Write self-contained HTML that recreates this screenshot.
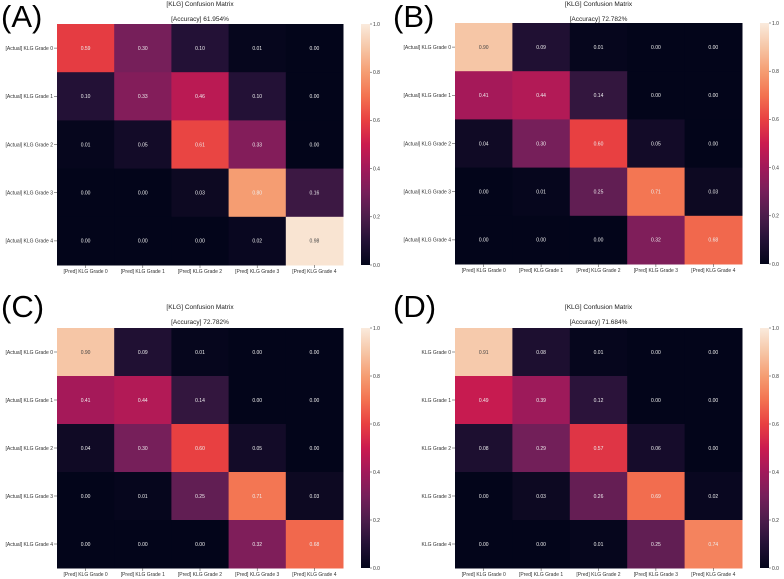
<!DOCTYPE html>
<html><head><meta charset="utf-8"><style>
html,body{margin:0;padding:0;background:#fff;}
svg{display:block;font-family:"Liberation Sans","DejaVu Sans",sans-serif;}
</style></head><body>
<svg id="fig" width="784" height="579" viewBox="0 0 784 579"></svg>
<script>
const panelLetters = ["(A)","(B)","(C)","(D)"];
const accuracies = ["61.954%","72.782%","72.782%","71.684%"];
const predLabels = ["[Pred] KLG Grade 0","[Pred] KLG Grade 1","[Pred] KLG Grade 2","[Pred] KLG Grade 3","[Pred] KLG Grade 4"];
const actualLabels = ["[Actual] KLG Grade 0","[Actual] KLG Grade 1","[Actual] KLG Grade 2","[Actual] KLG Grade 3","[Actual] KLG Grade 4"];
const plainLabels = ["KLG Grade 0","KLG Grade 1","KLG Grade 2","KLG Grade 3","KLG Grade 4"];
const colorbarTicks = [0.0,0.2,0.4,0.6,0.8,1.0];
const matrixA = [[0.59,0.30,0.10,0.01,0.00],[0.10,0.33,0.46,0.10,0.00],[0.01,0.05,0.61,0.33,0.00],[0.00,0.00,0.03,0.80,0.16],[0.00,0.00,0.00,0.02,0.98]];
const matrixB = [[0.90,0.09,0.01,0.00,0.00],[0.41,0.44,0.14,0.00,0.00],[0.04,0.30,0.60,0.05,0.00],[0.00,0.01,0.25,0.71,0.03],[0.00,0.00,0.00,0.32,0.68]];
const matrixC = [[0.90,0.09,0.01,0.00,0.00],[0.41,0.44,0.14,0.00,0.00],[0.04,0.30,0.60,0.05,0.00],[0.00,0.01,0.25,0.71,0.03],[0.00,0.00,0.00,0.32,0.68]];
const matrixD = [[0.91,0.08,0.01,0.00,0.00],[0.49,0.39,0.12,0.00,0.00],[0.08,0.29,0.57,0.06,0.00],[0.00,0.03,0.26,0.69,0.02],[0.00,0.00,0.01,0.25,0.74]];

const matrices=[matrixA,matrixB,matrixC,matrixD];
const layouts=[{ox:0,oy:0,hx:57,hy:24,hw:286,hh:241,cb:361,ty:6,rows:actualLabels},
{ox:392,oy:0,hx:455,hy:23,hw:287,hh:241,cb:760,ty:6,rows:actualLabels},
{ox:0,oy:290,hx:57,hy:328,hw:286,hh:240,cb:361,ty:309,rows:actualLabels},
{ox:392,oy:290,hx:455,hy:328,hw:287,hh:240,cb:760,ty:309,rows:plainLabels}];
const stops=[[0,3,5,26],[0.1,35,17,54],[0.2,76,29,75],[0.3,118,31,90],[0.4,161,25,90],[0.5,203,27,79],[0.6,232,64,65],[0.7,243,114,80],[0.8,245,157,114],[0.9,246,198,166],[1,250,235,221]];
function rocket(v){v=Math.max(0,Math.min(1,v));for(let i=1;i<stops.length;i++){if(v<=stops[i][0]){const a=stops[i-1],b=stops[i];const t=(v-a[0])/(b[0]-a[0]);return `rgb(${[1,2,3].map(k=>Math.round(a[k]+(b[k]-a[k])*t)).join(',')})`;}}return 'rgb(250,235,221)';}
const NS="http://www.w3.org/2000/svg";
const svg=document.getElementById('fig');
function mk(tag,attrs,parent,text){const e=document.createElementNS(NS,tag);for(const k in attrs)e.setAttribute(k,attrs[k]);if(text!==undefined)e.textContent=text;(parent||svg).appendChild(e);return e;}
matrices.forEach((m,p)=>{
  const L=layouts[p];
  const g=mk('g',{});
  
  
  const letter=mk('text',{x:L.ox+1,y:L.oy+27,'font-size':31,fill:'#000'},g,panelLetters[p]);
  
  
  const cx=L.hx+L.hw/2;
  const t1=mk('text',{x:cx,y:L.ty,'font-size':6.5,'text-anchor':'middle',fill:'#222'},g,'[KLG] Confusion Matrix');
  
  
  const t2=mk('text',{x:cx,y:L.ty+15,'font-size':6.5,'text-anchor':'middle',fill:'#222'},g,'[Accuracy] '+accuracies[p]);
  
  
  const cw=L.hw/5,ch=L.hh/5;
  m.forEach((row,r)=>row.forEach((v,c)=>{
    const rect=mk('rect',{x:L.hx+c*cw,y:L.hy+r*ch,width:cw+0.5,height:ch+0.5,fill:rocket(v)},g);
    
    
    const tx=mk('text',{x:L.hx+(c+0.5)*cw,y:L.hy+(r+0.5)*ch+1.8,'font-size':5,'text-anchor':'middle',fill:v>0.85?'#444':'#eee'},g,v.toFixed(2));
    
    
  }));
  L.rows.forEach((lab,r)=>{
    const y=L.hy+(r+0.5)*ch;
    const t=mk('text',{x:L.hx-4,y:y+1.8,'font-size':5,'text-anchor':'end',fill:'#333'},g,lab);
    
    
    mk('line',{x1:L.hx-3,x2:L.hx,y1:y,y2:y,stroke:'#333','stroke-width':0.5},g);
  });
  predLabels.forEach((lab,c)=>{
    const x=L.hx+(c+0.5)*cw;
    const t=mk('text',{x:x,y:L.hy+L.hh+8,'font-size':5,'text-anchor':'middle',fill:'#333'},g,lab);
    
    
    mk('line',{x1:x,x2:x,y1:L.hy+L.hh,y2:L.hy+L.hh+3,stroke:'#333','stroke-width':0.5},g);
  });
  const gid='grad'+p;
  const defs=mk('defs',{},g);
  const lg=mk('linearGradient',{id:gid,x1:0,y1:1,x2:0,y2:0},defs);
  for(let i=0;i<=20;i++)mk('stop',{offset:i/20,'stop-color':rocket(i/20)},lg);
  const cb=mk('rect',{x:L.cb,y:L.hy,width:9,height:L.hh,fill:`url(#${gid})`},g);
  
  
  colorbarTicks.forEach(v=>{
    const y=L.hy+L.hh*(1-v);
    mk('line',{x1:L.cb+9,x2:L.cb+11,y1:y,y2:y,stroke:'#333','stroke-width':0.5},g);
    const t=mk('text',{x:L.cb+12,y:y+1.8,'font-size':5,fill:'#333'},g,v.toFixed(1));
    
    
  });
});
</script>
</body></html>
